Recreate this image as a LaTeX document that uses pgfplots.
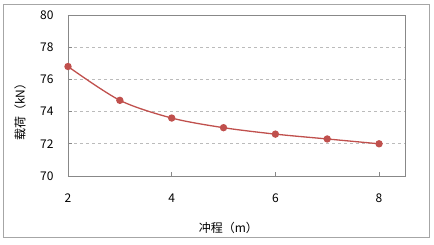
\documentclass[border=0pt]{standalone}
\usepackage{pgfplots}
\pgfplotsset{compat=1.18}
\usepackage{fontspec}
\setmainfont{Noto Sans CJK SC}
\definecolor{linered}{HTML}{C0504D}
\definecolor{axgray}{HTML}{888888}
\definecolor{gridgray}{HTML}{BBBBBB}
\begin{document}
\begin{tikzpicture}[font=\fontsize{12}{14}\selectfont]
\path (-68pt,-69pt) rectangle (366pt,176pt);
\draw[color=gray!70, line width=1pt] (-64pt,-62pt) rectangle (361pt,171pt);
\begin{axis}[
  at={(0,0)}, anchor=south west,
  scale only axis, width=337pt, height=161pt,
  xmin=2, xmax=8.5, ymin=70, ymax=80,
  xtick={2,4,6,8}, ytick={70,72,74,76,78,80},
  axis line style={color=axgray, line width=0.8pt},
  tick style={color=axgray, line width=0.6pt},
  major tick length=4pt,
  tick align=inside,
  xtick pos=bottom, ytick pos=left,
  ymajorgrids, grid style={dashed, color=gridgray, line width=0.6pt},
  /pgf/number format/assume math mode=true,
  tick label style={font=\fontsize{12}{14}\selectfont},
  yticklabel style={xshift=-11pt},
  xticklabel style={yshift=-14pt},
  xlabel={冲程（m）},
  ylabel={载荷（kN）},
  x label style={at={(axis description cs:0.476,0)}, anchor=center, yshift=-52pt},
  y label style={at={(axis description cs:-0.142,0.415)}, anchor=center},
  clip=false,
]
\addplot[smooth, color=linered, line width=1.3pt, mark=*, mark size=3pt, mark options={fill=linered, draw=linered}]
  coordinates {(2,76.8) (3,74.7) (4,73.6) (5,73.0) (6,72.6) (7,72.3) (8,72.0)};
\end{axis}
\end{tikzpicture}
\end{document}
